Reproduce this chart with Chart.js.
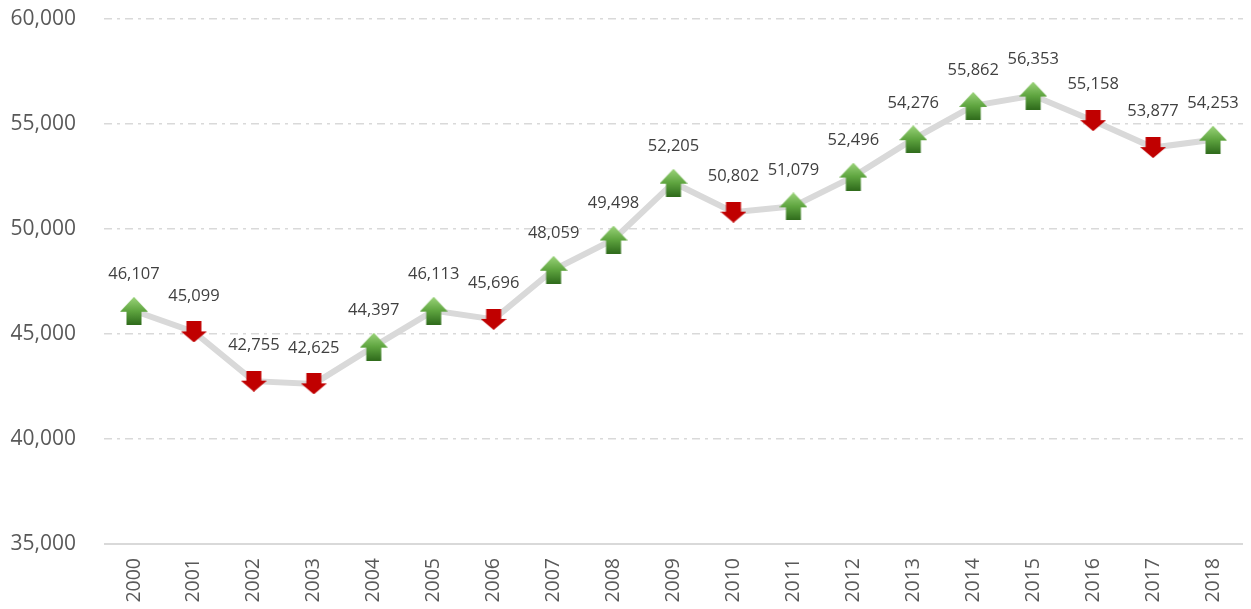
<!DOCTYPE html>
<html><head><meta charset="utf-8">
<script src="https://cdn.jsdelivr.net/npm/chart.js@4/dist/chart.umd.min.js"></script>
<style>html,body{margin:0;padding:0;background:#fff;overflow:hidden}#wrap{width:1251px;height:609px;position:relative}canvas{display:block}</style>
</head><body><div id="wrap"><canvas id="c"></canvas></div>
<script>
const years = ['2000','2001','2002','2003','2004','2005','2006','2007','2008','2009','2010','2011','2012','2013','2014','2015','2016','2017','2018'];
const values = [46107,45099,42755,42625,44397,46113,45696,48059,49498,52205,50802,51079,52496,54276,55862,56353,55158,53877,54253];
const yTicks = [35000,40000,45000,50000,55000,60000];

function makeArrow(up){
  const c = document.createElement('canvas');
  const w = up?28:26, h = up?28:21;
  c.width=w; c.height=h;
  const g = c.getContext('2d');
  g.beginPath();
  if(up){
    const sw=15, head=15;
    g.moveTo(w/2,0); g.lineTo(w,head); g.lineTo(w/2+sw/2,head); g.lineTo(w/2+sw/2,h);
    g.lineTo(w/2-sw/2,h); g.lineTo(w/2-sw/2,head); g.lineTo(0,head); g.closePath();
    const gr = g.createLinearGradient(0,0,0,h);
    gr.addColorStop(0,'#9bd47a'); gr.addColorStop(0.5,'#5fa540'); gr.addColorStop(1,'#2f6b1c');
    g.fillStyle=gr;
  } else {
    const sw=15, sh=10;
    g.moveTo(w/2-sw/2,0); g.lineTo(w/2+sw/2,0); g.lineTo(w/2+sw/2,sh); g.lineTo(w,sh);
    g.lineTo(w/2,h); g.lineTo(0,sh); g.lineTo(w/2-sw/2,sh); g.closePath();
    g.fillStyle='#c00000';
  }
  g.fill();
  return c;
}
const upA = makeArrow(true), downA = makeArrow(false);
const styles = values.map((v,i)=> (i===0 || v>=values[i-1]) ? upA : downA);

const labelPlugin = {
  id:'lbl',
  afterDatasetsDraw(chart){
    const ctx=chart.ctx, meta=chart.getDatasetMeta(0);
    ctx.save();
    ctx.font='16.5px "Open Sans"';
    ctx.fillStyle='#404040';
    ctx.textAlign='center'; ctx.textBaseline='middle';
    meta.data.forEach((pt,i)=>{
      ctx.fillText(values[i].toLocaleString('en-US'), pt.x, pt.y-36);
    });
    ctx.restore();
  }
};

new Chart(document.getElementById('c'),{
  type:'line',
  data:{labels:years,datasets:[{
    data:values,
    borderColor:'#d9d9d9',borderWidth:6,
    pointStyle:styles,pointRadius:1,pointHoverRadius:1,pointBorderWidth:0,pointHoverBorderWidth:0,
    tension:0,clip:false
  }]},
  options:{
    responsive:true,maintainAspectRatio:false,animation:false,
    layout:{padding:{left:0,right:8,top:19,bottom:0}},
    plugins:{legend:{display:false},tooltip:{enabled:false}},
    scales:{
      x:{
        offset:true,
        grid:{display:true,drawOnChartArea:false,drawTicks:true,tickLength:14,tickColor:'rgba(0,0,0,0)',color:'rgba(0,0,0,0)'},
        border:{display:false},
        ticks:{maxRotation:90,minRotation:90,padding:0,color:'#595959',font:{family:'"Open Sans"',size:19.5}},
        afterFit(s){s.height=65;s.paddingLeft=0;s.paddingRight=0;}
      },
      y:{
        min:35000,max:60000,
        afterBuildTicks(s){s.ticks=yTicks.map(v=>({value:v}));},
        grid:{color:'#d9d9d9',lineWidth:1.5,drawTicks:true,tickLength:28,tickColor:'rgba(0,0,0,0)'},
        border:{display:false,dash:[8,5,3,5]},
        ticks:{padding:0,color:'#595959',font:{family:'"Open Sans"',size:21},
               callback:(v)=>v.toLocaleString('en-US')},
        afterFit(s){s.width=104;}
      }
    }
  },
  plugins:[labelPlugin,{
    id:'baseline',
    beforeDatasetsDraw(chart){
      const {ctx,chartArea:a}=chart; const y=chart.scales.y.getPixelForValue(35000);
      ctx.save();ctx.fillStyle='#fff';ctx.fillRect(a.left,y-2,a.right-a.left,4);
      ctx.strokeStyle='#d9d9d9';ctx.lineWidth=2;ctx.beginPath();ctx.moveTo(a.left,y);ctx.lineTo(a.right,y);ctx.stroke();ctx.restore();
    }
  }]
});
</script></body></html>
